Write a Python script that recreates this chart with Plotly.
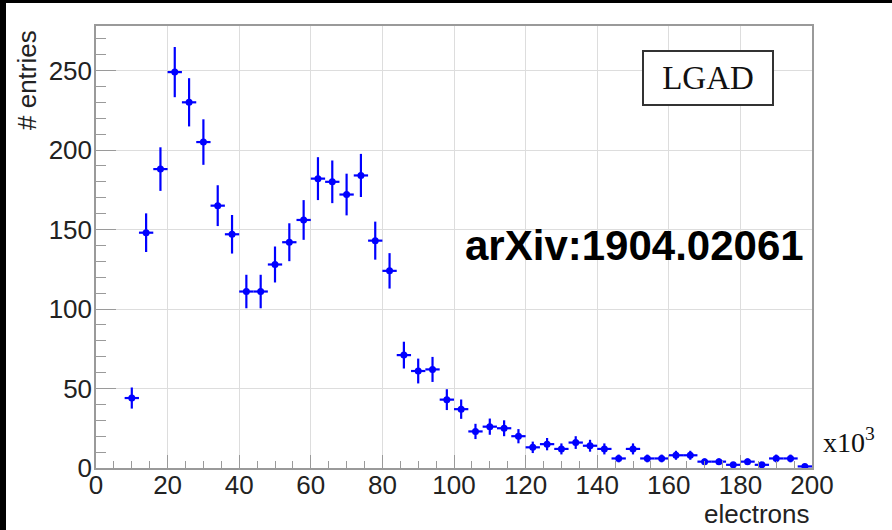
import plotly.graph_objects as go

# Histogram of collected charge: bin centres (in units of 10^3 electrons) and counts
bin_centers = [10, 14, 18, 22, 26, 30, 34, 38, 42, 46,
               50, 54, 58, 62, 66, 70, 74, 78, 82, 86,
               90, 94, 98, 102, 106, 110, 114, 118, 122, 126,
               130, 134, 138, 142, 146, 150, 154, 158, 162, 166,
               170, 174, 178, 182, 186, 190, 194, 198]
entries = [44, 148, 188, 249, 230, 205, 165, 147, 111, 111,
           128, 142, 156, 182, 180, 172, 184, 143, 124, 71,
           61, 62, 43, 37, 23, 26, 25, 20, 13, 15,
           12, 16, 14, 12, 6, 12, 6, 6, 8, 8,
           4, 4, 2, 4, 2, 6, 6, 1]
half_bin_width = 2

W, H = 892, 530
ML, MR, MT, MB = 96, 80, 26, 62
PW, PH = W - ML - MR, H - MT - MB

BLUE = "#0000ff"
AXIS_GRAY = "#9a9a9a"
GRID_GRAY = "#dddddd"
SANS = "Liberation Sans, Arial, Helvetica, sans-serif"
SERIF = "Liberation Serif, Times New Roman, serif"


def px_x(p):
    return (p - ML) / PW


def px_y(p):
    return (H - MB - p) / PH


fig = go.Figure()
fig.add_trace(go.Scatter(
    x=bin_centers,
    y=entries,
    mode="markers",
    marker=dict(symbol="circle", size=7, color=BLUE),
    error_y=dict(type="sqrt", color=BLUE, thickness=2.2, width=0),
    error_x=dict(type="constant", value=half_bin_width, color=BLUE, thickness=2.2, width=0),
    showlegend=False,
    cliponaxis=False,
))

axis_common = dict(
    showline=True, linecolor=AXIS_GRAY, linewidth=1.5, mirror=True,
    ticks="inside", tickcolor=AXIS_GRAY, tickwidth=1.3,
    showgrid=True, gridcolor=GRID_GRAY, gridwidth=1,
    zeroline=False,
    tickfont=dict(family=SANS, size=26, color="#222222"),
)

fig.update_xaxes(
    range=[0, 200], tick0=0, dtick=20, ticklen=13, ticklabelstandoff=-7,
    minor=dict(dtick=5, ticklen=7, ticks="inside", tickcolor=AXIS_GRAY, tickwidth=1.3, showgrid=False),
    **axis_common,
)
fig.update_yaxes(
    range=[0, 278], tick0=0, dtick=50, ticklen=20, ticklabelstandoff=-3,
    minor=dict(dtick=10, ticklen=10, ticks="inside", tickcolor=AXIS_GRAY, tickwidth=1.3, showgrid=False),
    **axis_common,
)

annotations = [
    # y-axis title, aligned to the top of the frame
    dict(text="# entries", xref="paper", yref="paper", x=px_x(27), y=px_y(28),
         xanchor="center", yanchor="top", textangle=-90, showarrow=False,
         font=dict(family=SANS, size=26, color="#222222")),
    # x-axis title, aligned to the right end of the axis
    dict(text="electrons", xref="paper", yref="paper", x=px_x(812), y=px_y(514),
         xanchor="right", yanchor="middle", showarrow=False,
         font=dict(family=SANS, size=26, color="#222222")),
    # axis multiplier
    dict(text="x10<sup>3</sup>", xref="paper", yref="paper", x=px_x(821), y=px_y(440),
         xanchor="left", yanchor="middle", showarrow=False,
         font=dict(family=SERIF, size=28, color="#111111")),
    # device label box
    dict(text="LGAD", xref="paper", yref="paper", x=px_x(708), y=px_y(78),
         xanchor="center", yanchor="middle", showarrow=False,
         width=128, height=52, borderpad=0, borderwidth=2,
         bordercolor="#333333", bgcolor="white",
         font=dict(family=SERIF, size=33, color="#111111")),
    # reference
    dict(text="<b>arXiv:1904.02061</b>", xref="paper", yref="paper", x=px_x(634), y=px_y(245),
         xanchor="center", yanchor="middle", showarrow=False,
         font=dict(family=SANS, size=42, color="black")),
]

shapes = [
    # black edge bands of the frame
    dict(type="rect", xref="paper", yref="paper", x0=px_x(0), x1=px_x(6), y0=px_y(H), y1=px_y(0),
         fillcolor="black", line=dict(width=0), layer="above"),
    dict(type="rect", xref="paper", yref="paper", x0=px_x(0), x1=px_x(W), y0=px_y(3), y1=px_y(0),
         fillcolor="black", line=dict(width=0), layer="above"),
]

fig.update_layout(
    width=W, height=H,
    margin=dict(l=ML, r=MR, t=MT, b=MB, pad=0),
    paper_bgcolor="white", plot_bgcolor="white",
    annotations=annotations,
    shapes=shapes,
)

fig.write_html("out.html", include_plotlyjs=True, config={"displayModeBar": False})
